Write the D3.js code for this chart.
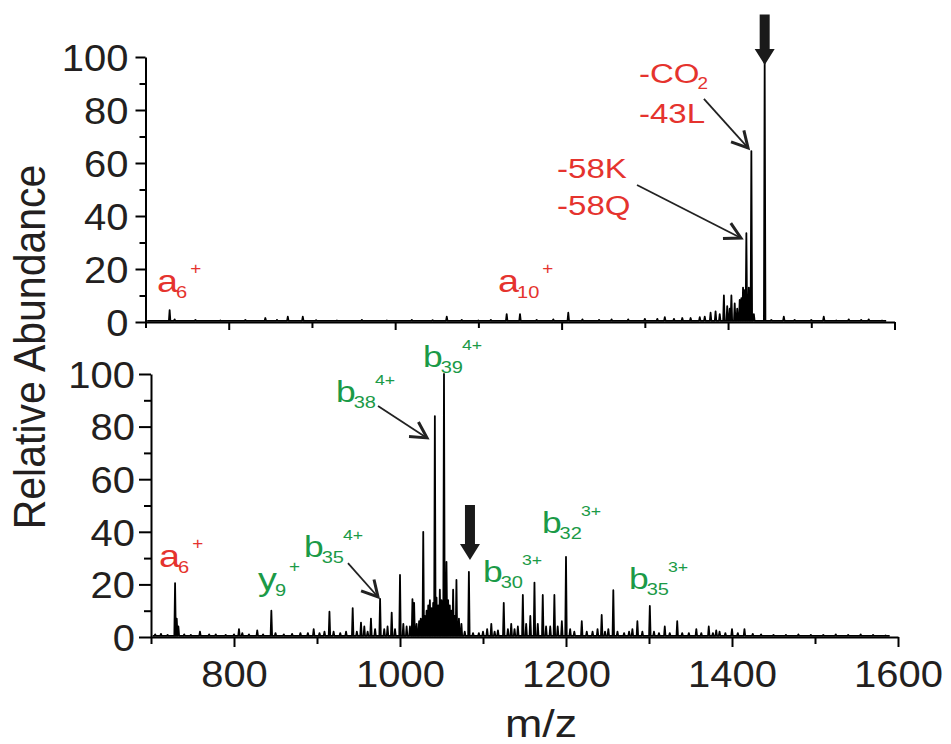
<!DOCTYPE html>
<html>
<head>
<meta charset="utf-8">
<script src="https://cdn.jsdelivr.net/npm/d3@7"></script>
<style>
  html, body { margin: 0; padding: 0; background: #fff; }
  svg { display: block; font-family: "Liberation Sans", Arial, Helvetica, sans-serif; }
</style>
</head>
<body>
<svg id="chart" width="951" height="744"></svg>
<script>
// ---- data (m/z, relative abundance %) ----
const yTicks = [0, 20, 40, 60, 80, 100];
const yMinor = [10, 30, 50, 70, 90];
const xTicks = [800, 1000, 1200, 1400, 1600];
const xMinor = [700, 900, 1100, 1300, 1500];

const topPeaks = [
  [729, 4.5], [735, 1], [760, 0.8], [790, 0.6], [820, 0.8], [844, 1.5], [858, 0.8],
  [871, 2], [889, 2], [905, 0.7], [930, 0.6], [960, 0.8], [990, 0.6], [1020, 0.8],
  [1045, 0.7], [1062, 2], [1080, 0.8], [1100, 0.6], [1115, 0.8], [1134, 3], [1150, 3],
  [1170, 0.8], [1190, 1], [1208, 3.5], [1225, 1], [1245, 0.8], [1260, 1], [1280, 1],
  [1300, 1.2], [1315, 1.2], [1324, 1.8], [1335, 1.2], [1345, 1.5], [1355, 1.5],
  [1366, 1.8], [1372, 2], [1379, 3.5], [1385, 4], [1390, 3], [1395, 10], [1399, 6],
  [1402, 5], [1404, 10], [1408, 7], [1411, 5], [1414, 8.3], [1416, 9], [1418, 13],
  [1420, 12], [1422, 33.5], [1425, 13], [1428, 64.5], [1431, 3], [1444, 98],
  [1452, 0.8], [1467, 2], [1480, 0.8], [1500, 0.8], [1515, 2], [1530, 0.6],
  [1545, 1], [1560, 0.8], [1569, 1], [1585, 0.5]
];

const bottomPeaks = [
  [705, 1], [712, 1.2], [720, 0.8], [729, 20.5], [731, 7], [733, 4], [740, 1], [748, 0.8],
  [759, 2], [770, 1], [778, 1], [790, 0.8], [800, 1], [806, 3], [810, 1.5], [818, 1],
  [828, 2.5], [835, 1], [845, 10], [850, 1.5], [860, 1], [870, 1.2], [880, 1.5], [889, 1.5],
  [896, 3], [903, 1.5], [909, 2], [915, 9.6], [920, 2], [928, 1.5], [935, 2], [943, 11],
  [948, 2], [953, 5.5], [957, 4], [961, 2], [965, 7], [970, 3], [976, 14.5], [981, 3],
  [985, 4], [990, 9.3], [994, 3], [1000, 23.6], [1004, 5], [1008, 4], [1012, 4],
  [1015, 14.4], [1017, 13], [1020, 5], [1023, 6], [1025, 7], [1028, 40], [1030, 8],
  [1032, 10], [1034, 12], [1036, 14], [1038, 11], [1040, 13], [1042, 84], [1044, 15],
  [1046, 12], [1048, 18], [1050, 14], [1053, 100], [1056, 28.6], [1058, 14], [1060, 12],
  [1062, 10], [1064, 18], [1066, 8], [1068, 21.7], [1071, 7], [1074, 5], [1078, 2],
  [1083, 24.8], [1088, 1.5], [1095, 1.5], [1100, 2], [1105, 3], [1110, 5], [1114, 2],
  [1118, 2.5], [1125, 13], [1130, 3], [1134, 5], [1138, 3], [1142, 4], [1148, 16],
  [1152, 5], [1157, 8], [1162, 20.7], [1166, 5], [1172, 16], [1176, 4], [1181, 4],
  [1186, 16], [1190, 4], [1195, 6], [1200, 30.5], [1205, 3], [1210, 2], [1219, 6],
  [1225, 2], [1232, 2], [1238, 3], [1243, 8.4], [1247, 2], [1251, 3], [1257, 17.8],
  [1262, 2], [1270, 1.5], [1276, 2], [1280, 3], [1286, 6], [1292, 2], [1301, 11.8],
  [1306, 2], [1312, 1.5], [1319, 4], [1325, 1.5], [1334, 6], [1340, 1.5], [1348, 1.5],
  [1357, 3], [1363, 1.5], [1372, 4], [1377, 1.5], [1381, 2.5], [1385, 2], [1392, 1.5],
  [1400, 3], [1407, 1.5], [1415, 3], [1425, 1.2], [1435, 1], [1450, 0.8], [1465, 0.8],
  [1480, 1], [1495, 0.8], [1510, 0.8], [1525, 1], [1540, 0.8], [1555, 1], [1570, 0.8],
  [1585, 0.6]
];

const RED = '#e5332e';
const GREEN = '#1b9a47';
const SX = 1.18;    // annotation lettering is wider than plain Arial
const SXT = 1.08;   // tick labels
const BASE = 0.4;

const svg = d3.select('#chart');

const panels = [
  { peaks: topPeaks, x: d3.scaleLinear([700, 1600], [145.5, 894.5]), y: d3.scaleLinear([0, 100], [322, 57]),
    yTick: 10, yMinorTick: 6, xTick: 8, xMinorTick: 6, labelGap: 17, xLabels: false },
  { peaks: bottomPeaks, x: d3.scaleLinear([700, 1600], [151, 898]), y: d3.scaleLinear([0, 100], [637, 374]),
    yTick: 12, yMinorTick: 7, xTick: 10, xMinorTick: 7, labelGap: 16, xLabels: true }
];

// stretched text helper
function stext(g, x, y, str, size, color, anchor, sx) {
  return g.append('text')
    .attr('transform', `translate(${x},${y}) scale(${sx || SX},1)`)
    .attr('font-size', size)
    .attr('fill', color)
    .attr('text-anchor', anchor || 'start')
    .text(str);
}
const w = t => t.node().getComputedTextLength() * SX;

// label like b38^4+ : main letter, subscript, superscript
function ionLabel(g, x, y, main, sub, sup, color, o) {
  const m = stext(g, x, y, main, o.size, color);
  let cx = x + w(m) - 2;
  if (sub) {
    const s = stext(g, cx, y + o.subDy, sub, o.subSize, color);
    cx += w(s) + o.gap;
  }
  if (sup) stext(g, cx, y - o.supDy, sup, o.supSize, color);
}

function openArrow(g, x1, y1, x2, y2) {
  const a = Math.atan2(y2 - y1, x2 - x1);
  const L = 18, spread = 0.5;
  g.append('line').attr('x1', x1).attr('y1', y1).attr('x2', x2).attr('y2', y2)
    .attr('stroke', '#222').attr('stroke-width', 1.8);
  const p = [
    [x2 - L * Math.cos(a - spread), y2 - L * Math.sin(a - spread)],
    [x2, y2],
    [x2 - L * Math.cos(a + spread), y2 - L * Math.sin(a + spread)]
  ];
  g.append('path').attr('d', d3.line()(p)).attr('fill', 'none')
    .attr('stroke', '#222').attr('stroke-width', 3).attr('stroke-linejoin', 'miter');
}

function blockArrow(g, cx, yTop, yTip) {
  const sw = 5, hw = 10, hl = 16;
  const p = [[cx - sw, yTop], [cx + sw, yTop], [cx + sw, yTip - hl], [cx + hw, yTip - hl],
             [cx, yTip], [cx - hw, yTip - hl], [cx - sw, yTip - hl]];
  g.append('path').attr('d', d3.line()(p) + 'Z').attr('fill', '#1a1a1a');
}

panels.forEach(P => {
  const g = svg.append('g');
  const [x0] = P.x.range();
  const [yb] = P.y.range();

  // spectrum trace as narrow sticks
  const hw = 0.9;
  const pts = [[702, BASE]];
  P.peaks.forEach(([mz, h]) => { pts.push([mz - hw, BASE], [mz, h], [mz + hw, BASE]); });
  pts.push([1590, BASE]);
  g.append('path')
    .attr('d', d3.line().x(d => P.x(d[0])).y(d => P.y(d[1]))(pts))
    .attr('fill', 'none').attr('stroke', '#000').attr('stroke-width', 1.8)
    .attr('stroke-linejoin', 'round');

  // y axis
  const ya = g.append('g').attr('transform', `translate(${x0},0)`)
    .call(d3.axisLeft(P.y).tickValues(yTicks).tickSize(P.yTick).tickSizeOuter(0));
  ya.selectAll('text')
    .attr('x', -P.labelGap / SXT).attr('dy', '0.36em')
    .attr('transform', `scale(${SXT},1)`)
    .attr('font-size', 37).attr('font-family', null).attr('fill', '#231f20');
  g.append('g').attr('transform', `translate(${x0},0)`)
    .call(d3.axisLeft(P.y).tickValues(yMinor).tickSize(P.yMinorTick).tickFormat(''))
    .select('.domain').remove();

  // x axis
  const xa = g.append('g').attr('transform', `translate(0,${yb})`)
    .call(d3.axisBottom(P.x).tickValues(xTicks).tickSize(P.xTick).tickSizeOuter(0)
      .tickFormat(d3.format('d')));
  if (P.xLabels) {
    xa.selectAll('text')
      .attr('y', 0).attr('dy', 0)
      .attr('transform', `translate(0,50) scale(${SXT},1)`)
      .attr('font-size', 37).attr('font-family', null).attr('fill', '#231f20');
  } else {
    xa.selectAll('text').remove();
  }
  g.append('g').attr('transform', `translate(0,${yb})`)
    .call(d3.axisBottom(P.x).tickValues(xMinor).tickSize(P.xMinorTick).tickFormat(''))
    .select('.domain').remove();

  g.selectAll('.domain, .tick line').attr('stroke', '#000').attr('stroke-width', 2);
});

// ---- annotations ----
const [T, B] = panels;
const ann = svg.append('g');
const aOpt = { size: 32, subSize: 17, subDy: 6, supSize: 16, supDy: 18, gap: 3 };
const bOpt = { size: 30, subSize: 17, subDy: 6, supSize: 15, supDy: 17, gap: -1 };
const cOpt = { size: 28, subSize: 16, subDy: 6, supSize: 15, supDy: 17, gap: 0 };

// top panel
ionLabel(ann, T.x(713.8), T.y(11.3), 'a', '6', '+', RED, aOpt);
ionLabel(ann, T.x(1123.6), T.y(11.3), 'a', '10', '+', RED, aOpt);
ionLabel(ann, T.x(1293), T.y(90.2), '-CO', '2', null, RED, cOpt);
stext(ann, T.x(1293), T.y(75.1), '-43L', 28, RED);
stext(ann, T.x(1194.5), T.y(54.3), '-58K', 28, RED);
stext(ann, T.x(1194.5), T.y(40.4), '-58Q', 28, RED);
openArrow(ann, T.x(1371), T.y(84.2), T.x(1424), T.y(65.7));
openArrow(ann, T.x(1290.6), T.y(51.7), T.x(1415.5), T.y(31.7));
blockArrow(ann, T.x(1444), T.y(116), T.y(97));

// bottom panel
ionLabel(ann, B.x(709.6), B.y(26.6), 'a', '6', '+', RED, aOpt);
ionLabel(ann, B.x(829), B.y(17.9), 'y', '9', '+', GREEN, aOpt);
ionLabel(ann, B.x(884.3), B.y(30.4), 'b', '35', '4+', GREEN, bOpt);
ionLabel(ann, B.x(922.9), B.y(89.4), 'b', '38', '4+', GREEN, bOpt);
ionLabel(ann, B.x(1027.7), B.y(102.7), 'b', '39', '4+', GREEN, bOpt);
ionLabel(ann, B.x(1100), B.y(20.9), 'b', '30', '3+', GREEN, bOpt);
ionLabel(ann, B.x(1171), B.y(39.5), 'b', '32', '3+', GREEN, bOpt);
ionLabel(ann, B.x(1275.9), B.y(18.3), 'b', '35', '3+', GREEN, bOpt);
openArrow(ann, B.x(937.3), B.y(28.1), B.x(973.5), B.y(15.2));
openArrow(ann, B.x(973.5), B.y(87.8), B.x(1032.5), B.y(75.7));
blockArrow(ann, B.x(1084.3), B.y(50.2), B.y(29.3));

// axis titles
svg.append('text')
  .attr('transform', 'translate(45,347) rotate(-90) scale(1,1.08)')
  .attr('text-anchor', 'middle').attr('font-size', 41).attr('fill', '#231f20')
  .text('Relative Abundance');
stext(svg, 541, 737, 'm/z', 38, '#231f20', 'middle');
</script>
</body>
</html>
